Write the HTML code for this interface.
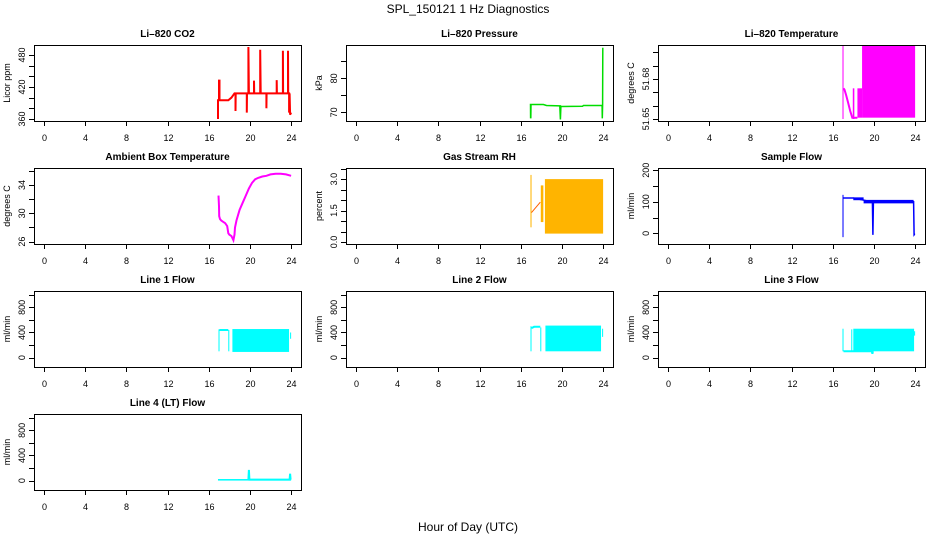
<!DOCTYPE html>
<html><head><meta charset="utf-8"><style>
body{margin:0;background:#fff}
svg{display:block;font-family:"Liberation Sans",sans-serif}
</style></head><body>
<svg id="c" width="936" height="540" viewBox="0 0 936 540">
<text x="468" y="13" font-size="12" text-anchor="middle">SPL_150121  1 Hz Diagnostics</text>
<text x="468" y="531" font-size="12" text-anchor="middle">Hour of Day (UTC)</text>
</svg>
<script>
const xTicks=[0,4,8,12,16,20,24];
// CO2
const co2T=[16.9,16.9,16.95,17.0,17.0,17.05,17.05,17.9,18.2,18.5,18.6,18.6,18.62,19.7,19.7,19.72,19.85,19.85,19.9,20.4,20.4,20.42,21.0,21.0,21.05,21.6,21.6,21.62,22.6,22.6,22.62,23.2,23.2,23.22,23.7,23.7,23.72,23.8,23.8,23.85,23.9,24.0];
const co2V=[360,395,395,395,432,432,395,395,400,408,408,375,408,408,372,408,408,495,408,408,432,408,408,490,408,408,380,408,408,433,408,408,488,408,408,488,408,408,372,408,368,372];
// Pressure
const prT=[16.95,16.96,16.97,16.98,17.0,18.2,18.5,19.8,19.85,19.9,19.95,22.0,22.1,23.9,23.92,23.95,23.97];
const prV=[72.5,68.2,72.5,68.2,72.3,72.3,72.0,71.9,67.9,71.8,71.7,71.8,72.0,72.0,68.2,72,89];
// Li-820 temperature
const tmpBandT0=[16.95,17.95,18.4,18.85], tmpBandT1=[17.05,18.1,18.85,24.0], tmpBandLo=[51.65,51.65,51.651,51.651], tmpBandHi=[51.7055,51.673,51.673,51.7055];
const tmpT=[17.05,17.15,17.3,17.5,17.7,17.9,18.1,18.4], tmpV=[51.673,51.672,51.668,51.662,51.656,51.651,51.651,51.651];
// Ambient
const ambT=[16.95,17.0,17.02,17.1,17.2,17.4,17.6,17.8,17.9,18.0,18.2,18.4,18.5,18.55,18.7,19.0,19.3,19.6,19.9,20.2,20.5,20.8,21.2,21.6,22.0,22.5,23.0,23.5,24.0];
const ambV=[32.5,31,29.6,29.2,29,28.8,28.6,28.2,27.2,27,26.8,26.2,27,28,29,30.5,31.5,32.5,33.5,34.3,34.8,35,35.2,35.3,35.5,35.6,35.6,35.5,35.3];
// RH
const rhBandT0=[16.95,17.95,18.35], rhBandT1=[17.05,18.2,24.0], rhBandLo=[0.7,0.95,0.4], rhBandHi=[3.2,2.7,3.0];
const rhT=[17.05,17.9], rhV=[1.4,1.9];
// Sample flow
const sfBandT0=[16.95,18.0,19.0], sfBandT1=[17.05,19.0,23.85], sfBandLo=[-12,105,95], sfBandHi=[122,114,106];
const sfT=[17.05,18.0,19.8,19.85,19.9,19.95,23.85,23.9,23.95,24], sfV=[112,112,100,100,-5,100,100,-5,-3,-3];
// Line flows
const l1BandT0=[16.95,17.9,18.3,23.9], l1BandT1=[17.05,18.0,23.8,24.0], l1BandLo=[100,100,90,300], l1BandHi=[450,440,455,400];
const l1T=[17.05,17.9], l1V=[440,440];
const l2BandT0=[16.95,17.9,18.4,23.9], l2BandT1=[17.05,18.0,23.8,24.0], l2BandLo=[100,100,100,330], l2BandHi=[500,480,510,460];
const l2T=[17.05,17.3,17.9], l2V=[470,490,490];
const l3BandT0=[16.95,17.8,18.0,23.9], l3BandT1=[17.05,17.9,23.9,24.0], l3BandLo=[100,100,100,350], l3BandHi=[460,450,460,420];
const l3T=[17.05,17.8,19.8,19.85,19.9], l3V=[100,100,100,60,100];
const l4BandT0=[16.9], l4BandT1=[24.0], l4BandLo=[0], l4BandHi=[25];
const l4T=[19.85,19.9,19.95,23.85,23.9,23.95], l4V=[15,170,15,15,110,15];

const panels=[
 {n:'co2',title:'Li–820 CO2',yl:'Licor ppm',r:0,c:0,ymin:356.25,ymax:498.75,ticks:[360,380,400,420,440,460,480],labels:[360,420,480],col:'#ff0000',lw:2,t:co2T,v:co2V},
 {n:'pressure',title:'Li–820 Pressure',yl:'kPa',r:0,c:1,ymin:67.45,ymax:89.8,ticks:[70,75,80,85],labels:[70,80],col:'#00dd00',lw:1.5,t:prT,v:prV},
 {n:'li820-temp',title:'Li–820 Temperature',yl:'degrees C',r:0,c:2,ymin:51.6485,ymax:51.7055,ticks:[51.65,51.66,51.67,51.68,51.69,51.70],labels:[51.65,51.68],col:'#ff00ff',lw:2,t:tmpT,v:tmpV,b:[tmpBandT0,tmpBandT1,tmpBandLo,tmpBandHi]},
 {n:'ambient-temp',title:'Ambient Box Temperature',yl:'degrees C',r:1,c:0,ymin:25.67,ymax:36.4,ticks:[26,28,30,32,34,36],labels:[26,30,34],col:'#ff00ff',lw:2,t:ambT,v:ambV},
 {n:'rh',title:'Gas Stream RH',yl:'percent',r:1,c:1,ymin:-0.096,ymax:3.53,ticks:[0,0.5,1,1.5,2,2.5,3,3.5],labels:['0.0','1.5','3.0'],lab:[0,1.5,3],col:'#ff6000',lw:1,t:rhT,v:rhV,b:[rhBandT0,rhBandT1,rhBandLo,rhBandHi],fill:'#ffb400'},
 {n:'sample-flow',title:'Sample Flow',yl:'ml/min',r:1,c:2,ymin:-33.7,ymax:207,ticks:[0,50,100,150,200],labels:[0,100,200],col:'#0000ff',lw:1.5,t:sfT,v:sfV,b:[sfBandT0,sfBandT1,sfBandLo,sfBandHi]},
 {n:'line1-flow',title:'Line 1 Flow',yl:'ml/min',r:2,c:0,ymin:-150,ymax:1061,ticks:[0,200,400,600,800,1000],labels:[0,400,800],col:'#00ffff',lw:2,t:l1T,v:l1V,b:[l1BandT0,l1BandT1,l1BandLo,l1BandHi]},
 {n:'line2-flow',title:'Line 2 Flow',yl:'ml/min',r:2,c:1,ymin:-150,ymax:1061,ticks:[0,200,400,600,800,1000],labels:[0,400,800],col:'#00ffff',lw:2,t:l2T,v:l2V,b:[l2BandT0,l2BandT1,l2BandLo,l2BandHi]},
 {n:'line3-flow',title:'Line 3 Flow',yl:'ml/min',r:2,c:2,ymin:-150,ymax:1061,ticks:[0,200,400,600,800,1000],labels:[0,400,800],col:'#00ffff',lw:2,t:l3T,v:l3V,b:[l3BandT0,l3BandT1,l3BandLo,l3BandHi]},
 {n:'line4-flow',title:'Line 4 (LT) Flow',yl:'ml/min',r:3,c:0,ymin:-150,ymax:1061,ticks:[0,200,400,600,800,1000],labels:[0,400,800],col:'#00ffff',lw:2,t:l4T,v:l4V,b:[l4BandT0,l4BandT1,l4BandLo,l4BandHi]}
];
const svg=document.getElementById('c');const NS='http://www.w3.org/2000/svg';
function mk(tag,at,parent,txt){const e=document.createElementNS(NS,tag);for(const k in at)e.setAttribute(k,at[k]);if(txt!==undefined)e.textContent=txt;parent.appendChild(e);return e;}
const W=267,H=76;
panels.forEach(p=>{
 const x0=34+p.c*312,y0=45+p.r*123;
 const g=mk('g',{},svg);
 
 
 const X=t=>x0+(t+0.96)/25.92*W;
 const Y=v=>y0+H-(v-p.ymin)/(p.ymax-p.ymin)*H;
 const cp='cp-'+p.n;
 const cl=mk('clipPath',{id:cp},g);mk('rect',{x:x0,y:y0,width:W,height:H},cl);
 const d=mk('g',{'clip-path':'url(#'+cp+')'},g);
 if(p.b){const [a,b,lo,hi]=p.b;for(let i=0;i<a.length;i++){
  const r=mk('rect',{x:X(a[i]),y:Y(hi[i]),width:Math.max(1,X(b[i])-X(a[i])),height:Math.max(1,Y(lo[i])-Y(hi[i])),fill:p.fill||p.col},d);
  
  }}
 const pts=p.t.map((t,i)=>X(t).toFixed(1)+','+Y(p.v[i]).toFixed(1)).join(' ');
 const pl=mk('polyline',{points:pts,fill:'none',stroke:p.col,'stroke-width':p.lw},d);
 
 
 const bx=mk('rect',{x:x0+.5,y:y0+.5,width:W,height:H,fill:'none',stroke:'#000'},g);
 
 
 const tt=mk('text',{x:x0+W/2,y:y0-8,'font-size':10,'font-weight':'bold','text-anchor':'middle'},g,p.title);
 
 
 xTicks.forEach(t=>{const x=Math.round(X(t))+.5;mk('line',{x1:x,x2:x,y1:y0+H,y2:y0+H+5,stroke:'#000'},g);
  const l=mk('text',{x:x,y:y0+H+20,'font-size':9,'text-anchor':'middle'},g,t);
  
  });
 p.ticks.forEach(v=>{const y=Math.round(Y(v))+.5;mk('line',{x1:x0-5,x2:x0,y1:y,y2:y,stroke:'#000'},g);});
 p.labels.forEach((lb,i)=>{const v=p.lab?p.lab[i]:lb;const y=Y(v);
  const l=mk('text',{x:0,y:0,'font-size':9,'text-anchor':'middle',transform:'translate('+(x0-9)+','+y+') rotate(-90)'},g,lb);
  
  });
 const yl=mk('text',{x:0,y:0,'font-size':9,'text-anchor':'middle',transform:'translate('+(x0-24)+','+(y0+H/2)+') rotate(-90)'},g,p.yl);
 
 
});
</script>
</body></html>
